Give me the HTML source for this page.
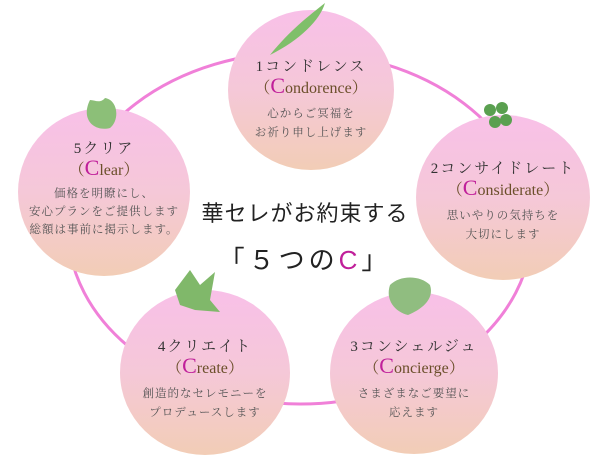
<!DOCTYPE html>
<html><head><meta charset="utf-8"><style>
body{margin:0;width:600px;height:460px;background:#fff;overflow:hidden;position:relative;font-family:"Liberation Serif","Noto Serif CJK SC","Noto Sans CJK JP",serif;}
.c{position:absolute;border-radius:50%;background:linear-gradient(#f8c0e8,#f5c8d8 50%,#f2cdb6);text-align:center;}
.t{position:absolute;left:0;right:0;text-align:center;}
.h{font-size:15px;color:#333;letter-spacing:2px;line-height:18px}
.e{font-size:16px;color:#6b4f2a;line-height:20px}
.e b{font-weight:normal;color:#c0209a;font-size:22px}
.d{font-size:11.5px;color:#555;line-height:19px;letter-spacing:1px}
.leaf{position:absolute;}
</style></head><body>
<svg width="600" height="460" style="position:absolute;left:0;top:0">
<ellipse cx="300" cy="228" rx="232" ry="176" fill="none" stroke="#f080d8" stroke-width="3"/>
</svg>
<div class="c" style="left:228px;top:10px;width:166px;height:160px"></div>
<div class="c" style="left:18px;top:108px;width:172px;height:168px"></div>
<div class="c" style="left:416px;top:115px;width:174px;height:165px"></div>
<div class="c" style="left:120px;top:290px;width:170px;height:165px"></div>
<div class="c" style="left:330px;top:292px;width:168px;height:162px"></div>
<svg width="600" height="460" style="position:absolute;left:0;top:0">
<g fill="#7fbf6a"><path d="M270 55 C290 30 310 15 325 3 C320 20 300 40 270 55Z"/></g>
<path d="M90 100 C80 120 95 132 110 128 C120 120 118 100 105 98 C100 104 95 100 90 100Z" fill="#8cbf78"/>
<path d="M175 290 L190 270 L200 285 L215 272 L210 300 L220 312 L195 310 L180 305Z" fill="#80b86a"/>
<path d="M390 285 C385 300 395 312 408 315 C420 310 435 300 430 285 C420 275 400 275 390 285Z" fill="#90bd80"/>
<g fill="#5aa050"><circle cx="490" cy="110" r="6"/><circle cx="502" cy="108" r="6"/><circle cx="495" cy="122" r="6"/><circle cx="506" cy="120" r="6"/></g>
</svg>
<div class="t" style="left:228px;width:166px;top:58px"><div class="h">1コンドレンス</div><div class="e">（<b>C</b>ondorence）</div><div class="d" style="margin-top:6px">心からご冥福を<br>お祈り申し上げます</div></div>
<div class="t" style="left:18px;width:172px;top:140px"><div class="h">5クリア</div><div class="e">（<b>C</b>lear）</div><div class="d" style="margin-top:4px;line-height:18px">価格を明瞭にし、<br>安心プランをご提供します<br>総額は事前に掲示します。</div></div>
<div class="t" style="left:416px;width:174px;top:160px"><div class="h">2コンサイドレート</div><div class="e">（<b>C</b>onsiderate）</div><div class="d" style="margin-top:6px">思いやりの気持ちを<br>大切にします</div></div>
<div class="t" style="left:120px;width:170px;top:338px"><div class="h">4クリエイト</div><div class="e">（<b>C</b>reate）</div><div class="d" style="margin-top:6px">創造的なセレモニーを<br>プロデュースします</div></div>
<div class="t" style="left:330px;width:168px;top:338px"><div class="h">3コンシェルジュ</div><div class="e">（<b>C</b>oncierge）</div><div class="d" style="margin-top:6px">さまざまなご要望に<br>応えます</div></div>
<div class="t" style="left:190px;width:230px;top:196px;font-size:22px;color:#222;letter-spacing:1px;font-family:'Liberation Sans','Noto Sans CJK JP',sans-serif">華セレがお約束する</div>
<div class="t" style="left:190px;width:230px;top:240px;font-size:26px;color:#222;letter-spacing:4px;font-family:'Liberation Sans','Noto Sans CJK JP',sans-serif">「５つの<span style="color:#c0209a">C</span>」</div>
</body></html>
